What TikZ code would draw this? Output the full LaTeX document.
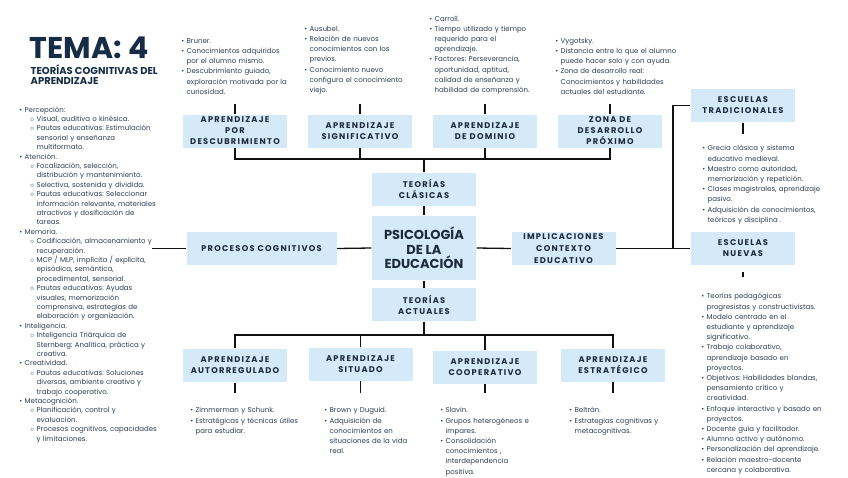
\documentclass[tikz,border=0pt]{standalone}
\usepackage{fontspec}
\setmainfont{Poppins}
\newfontfamily\boxfont[LetterSpace=15]{Poppins}
\usepackage{enumitem}
\setlist[itemize]{nosep, leftmargin=6pt, labelsep=2.5pt}
\setlist[itemize,1]{label={\scriptsize\textbullet}}
\setlist[itemize,2]{label={\scriptsize$\circ$}, leftmargin=12pt}
\usetikzlibrary{positioning}
\frenchspacing

\begin{document}
\begin{tikzpicture}[x=1pt, y=-1pt, line width=1.3pt,
  box/.style={fill=boxblue, text=ink, font=\boxfont\bfseries\fontsize{8.3}{11}\selectfont,
    align=center, minimum width=104pt, minimum height=33pt, inner sep=0pt},
  notes/.style={text=txt, font=\fontsize{7}{10.2}\selectfont, inner xsep=0pt,
    inner ysep=9pt, text width=#1, align=left}]
  \definecolor{ink}{HTML}{1B2A3C}
  \definecolor{navy}{HTML}{172D45}
  \definecolor{txt}{HTML}{2E3E52}
  \definecolor{boxblue}{HTML}{D4EAF8}
  \definecolor{wire}{HTML}{111111}
  \fill[white] (0,0) rectangle (848,477);
  \useasboundingbox (0,0) rectangle (848,477);

  % title
  \node[anchor=base west, inner sep=0pt, text=navy, font=\bfseries\fontsize{30}{30}\selectfont] (tema) at (29,58) {TEMA: 4};
  \node[anchor=north west, inner sep=0pt, text=navy, align=left, font=\bfseries\fontsize{10}{9.6}\selectfont] (subt) at (30,64) {TEORÍAS COGNITIVAS DEL\\APRENDIZAJE};

  % centre
  \node[box, minimum height=64pt, font=\bfseries\fontsize{13}{14.5}\selectfont] (psico) at (424,248) {PSICOLOGÍA\\DE LA\\EDUCACIÓN};
  \node[box, above=9pt of psico] (clasicas) {TEORÍAS\\CLÁSICAS};
  \node[box, below=7pt of psico] (actuales) {TEORÍAS\\ACTUALES};
  \node[box, minimum width=150pt] (procesos) at (261.5,248.5) {PROCESOS COGNITIVOS};
  \node[box, font=\boxfont\bfseries\fontsize{8.3}{12}\selectfont] (implic) at (563.5,248.5) {IMPLICACIONES\\CONTEXTO\\EDUCATIVO};
  \node[box] (tradic) at (743,105.5) {ESCUELAS\\TRADICIONALES};
  \node[box] (nuevas) at (743,248.5) {ESCUELAS\\NUEVAS};

  % classic theories
  \node[box] (descub) at (235,131) {APRENDIZAJE\\POR\\DESCUBRIMIENTO};
  \node[box] (signif) at (360,131) {APRENDIZAJE\\SIGNIFICATIVO};
  \node[box] (dominio) at (485,131) {APRENDIZAJE\\DE DOMINIO};
  \node[box] (zona) at (610,131) {ZONA DE\\DESARROLLO\\PRÓXIMO};

  % current theories
  \node[box] (autorreg) at (235,365.5) {APRENDIZAJE\\AUTORREGULADO};
  \node[box] (situado) at (360.5,364) {APRENDIZAJE\\SITUADO};
  \node[box] (coop) at (485,367) {APRENDIZAJE\\COOPERATIVO};
  \node[box] (estrat) at (613,365) {APRENDIZAJE\\ESTRATÉGICO};

  % notes
  \node[notes=124pt, anchor=south west] (bruner) at (180,104) {\begin{itemize}
    \item Bruner.
    \item Conocimientos adquiridos\newline por el alumno mismo.
    \item Descubrimiento guiado,\newline exploración motivada por la\newline curiosidad.
  \end{itemize}};
  \node[notes=124pt, anchor=south west] (ausubel) at (303,104) {\begin{itemize}
    \item Ausubel.
    \item Relación de nuevos\newline conocimientos con los\newline previos.
    \item Conocimiento nuevo\newline configura el conocimiento\newline viejo.
  \end{itemize}};
  \node[notes=124pt, anchor=south west] (carroll) at (428,104) {\begin{itemize}
    \item Carroll.
    \item Tiempo utilizado y tiempo\newline requerido para el\newline aprendizaje.
    \item Factores: Perseverancia,\newline oportunidad, aptitud,\newline calidad de enseñanza y\newline habilidad de comprensión.
  \end{itemize}};
  \node[notes=130pt, anchor=south west] (vygotsky) at (554,104) {\begin{itemize}
    \item Vygotsky.
    \item Distancia entre lo que el alumno\newline puede hacer solo y con ayuda.
    \item Zona de desarrollo real:\newline Conocimientos y habilidades\newline actuales del estudiante.
  \end{itemize}};
  \node[notes=140pt, anchor=north west, inner ysep=6pt] (tradlist) at (701,134) {\begin{itemize}
    \item Grecia clásica y sistema\newline educativo medieval.
    \item Maestro como autoridad,\newline memorización y repetición.
    \item Clases magistrales, aprendizaje\newline pasivo.
    \item Adquisición de conocimientos,\newline teóricos y disciplina .
  \end{itemize}};
  \node[notes=145pt, anchor=north west, inner ysep=11pt] (nuevlist) at (700,277) {\begin{itemize}
    \item Teorías pedagógicas\newline progresistas y constructivistas.
    \item Modelo centrado en el\newline estudiante y aprendizaje\newline significativo.
    \item Trabajo colaborativo,\newline aprendizaje basado en\newline proyectos.
    \item Objetivos: Habilidades blandas,\newline pensamiento crítico y\newline creatividad.
    \item Enfoque interactivo y basado en\newline proyectos.
    \item Docente guía y facilitador.
    \item Alumno activo y autónomo.
    \item Personalización del aprendizaje.
    \item Relación maestro-docente\newline cercana y colaborativa.
  \end{itemize}};
  \node[notes=125pt, anchor=north west] (zimmer) at (189,393) {\begin{itemize}
    \item Zimmerman y Schunk.
    \item Estratégicas y técnicas útiles\newline para estudiar.
  \end{itemize}};
  \node[notes=110pt, anchor=north west] (brown) at (323,393) {\begin{itemize}
    \item Brown y Duguid.
    \item Adquisición de\newline conocimientos en\newline situaciones de la vida\newline real.
  \end{itemize}};
  \node[notes=120pt, anchor=north west] (slavin) at (439,393) {\begin{itemize}
    \item Slavin.
    \item Grupos heterogéneos e\newline impares.
    \item Consolidación\newline conocimientos ,\newline interdependencia\newline positiva.
  \end{itemize}};
  \node[notes=120pt, anchor=north west] (beltran) at (568,393) {\begin{itemize}
    \item Beltrán.
    \item Estrategias cognitivas y\newline metacognitivas.
  \end{itemize}};
  \node[notes=150pt, anchor=north west, inner ysep=0pt, font=\fontsize{7}{9.4}\selectfont] (proclist) at (16,102) {\begin{itemize}[leftmargin=8pt]
    \item Percepción:
    \begin{itemize}
      \item Visual, auditiva o kinésica.
      \item Pautas educativas: Estimulación\newline sensorial y enseñanza\newline multiformato.
    \end{itemize}
    \item Atención.
    \begin{itemize}
      \item Focalización, selección,\newline distribución y mantenimiento.
      \item Selectiva, sostenida y dividida.
      \item Pautas educativas: Seleccionar\newline información relevante, materiales\newline atractivos y dosificación de\newline tareas.
    \end{itemize}
    \item Memoria.
    \begin{itemize}
      \item Codificación, almacenamiento y\newline recuperación.
      \item MCP / MLP, implícita / explícita,\newline episódica, semántica,\newline procedimental, sensorial.
      \item Pautas educativas: Ayudas\newline visuales, memorización\newline comprensiva, estrategias de\newline elaboración y organización.
    \end{itemize}
    \item Inteligencia.
    \begin{itemize}
      \item Inteligencia Triárquica de\newline Sternberg: Analítica, práctica y\newline creativa.
    \end{itemize}
    \item Creatividad.
    \begin{itemize}
      \item Pautas educativas: Soluciones\newline diversas, ambiente creativo y\newline trabajo cooperativo.
    \end{itemize}
    \item Metacognición.
    \begin{itemize}
      \item Planificación, control y\newline evaluación.
      \item Procesos cognitivos, capacidades\newline y limitaciones.
    \end{itemize}
  \end{itemize}};

  % connectors
  \coordinate (topbus) at (424,159);
  \coordinate (botbus) at (424,335);
  \coordinate (procend) at (152,248.5);
  \coordinate (junc) at (673,248.5);
  \begin{scope}[draw=wire]
    \draw (clasicas.south) -- (psico.north);
    \draw (psico.south) -- (actuales.north);
    \draw (procend) -- (procesos.west);
    \draw (procesos.east) -- (psico.west);
    \draw (psico.east) -- (implic.west);
    \draw (implic.east) -- (nuevas.west);
    \draw (tradic.west) -| (junc);
    \draw (tradic.south) -- (tradlist.north -| tradic.south);
    \draw (nuevas.south) ++(0,6) -- (nuevlist.north -| nuevas.south);
    \draw (descub.south) |- (topbus) -| (zona.south);
    \draw (signif.south) -- (signif.south |- topbus);
    \draw (dominio.south) -- (dominio.south |- topbus);
    \draw (topbus) -- (clasicas.north);
    \draw (autorreg.north) |- (botbus) -| (estrat.north);
    \draw (situado.north) -- (situado.north |- botbus);
    \draw (coop.north) -- (coop.north |- botbus);
    \draw (actuales.south) -- (botbus);
    \foreach \b/\l in {descub/bruner, signif/ausubel, dominio/carroll, zona/vygotsky}
      \draw (\b.north) -- (\b.north |- \l.south);
    \foreach \b/\l in {autorreg/zimmer, situado/brown, coop/slavin, estrat/beltran}
      \draw (\b.south) -- (\b.south |- \l.north);
  \end{scope}
\end{tikzpicture}
\end{document}
